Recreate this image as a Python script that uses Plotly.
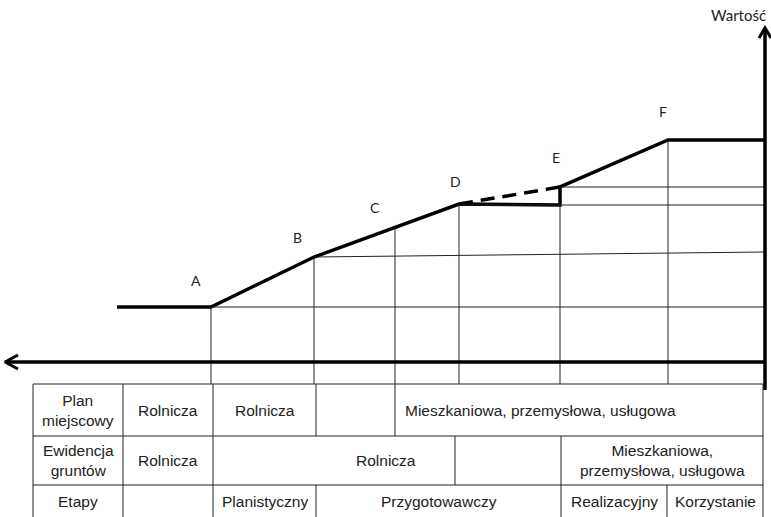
import plotly.graph_objects as go

W, H = 771, 517
# horizontal position (px-like units) and value units (0 = horizontal axis)
X_RANGE = [0, 771]
V_RANGE = [-155, 362]

# ---- value path -------------------------------------------------------
path_x = [117, 211, 314, 459, 560, 560, 668, 765]
path_v = [55, 55, 105, 158, 157, 175, 222, 222]
expected_x = [459, 560]
expected_v = [158, 175]

point_names = ["A", "B", "C", "D", "E", "F"]
point_label_x = [196, 297, 375, 455, 556, 663]
point_label_v = [82, 125, 155, 181, 205, 251]

# ---- guide lines ------------------------------------------------------
grid_x = [211, 314, 395, 459, 560, 668]
grid_top_v = [55, 105, 134, 158, 157, 222]
level_start_x = [211, 314, 459, 560]
level_start_v = [55, 105, 157, 175]
level_end_v = [55, 110, 157, 175]

axis_x = 765
axis_top_v = 334
haxis_left_x = 5
axis_title = "Wartość"

# ---- table ------------------------------------------------------------
table_left, table_right = 33, 763
row_edges_v = [-22, -74, -123, -157]
row_edges_x = [
    [33, 123, 213, 316, 395, 763],
    [33, 123, 213, 455, 561, 763],
    [33, 123, 213, 316, 561, 667, 763],
]
row_texts = [
    ["Plan<br>miejscowy", "Rolnicza", "Rolnicza", "", "Mieszkaniowa, przemysłowa, usługowa"],
    ["Ewidencja<br>gruntów", "Rolnicza", "Rolnicza", "", "Mieszkaniowa,<br>przemysłowa, usługowa"],
    ["Etapy", "", "Planistyczny", "Przygotowawczy", "Realizacyjny", "Korzystanie"],
]
# text anchor position inside cells (None = centred in cell)
row_text_x = [
    [None, None, None, None, 403],
    [None, None, 386, None, None],
    [None, None, None, None, None, None],
]
row_text_v = [-48, -98, -139]

THIN = "#222222"
fig = go.Figure()

shapes = []
# vertical guide lines down to table top
for gx, gv in zip(grid_x, grid_top_v):
    shapes.append(dict(type="line", x0=gx, x1=gx, y0=gv, y1=row_edges_v[0],
                       line=dict(color=THIN, width=1)))
# horizontal level lines to the value axis
for sx, sv, ev in zip(level_start_x, level_start_v, level_end_v):
    shapes.append(dict(type="line", x0=sx, x1=axis_x, y0=sv, y1=ev,
                       line=dict(color=THIN, width=1)))
# table horizontal lines
for rv in row_edges_v:
    shapes.append(dict(type="line", x0=table_left, x1=table_right, y0=rv, y1=rv,
                       line=dict(color=THIN, width=1)))
# table vertical lines
for r, edges in enumerate(row_edges_x):
    for ex in edges:
        shapes.append(dict(type="line", x0=ex, x1=ex, y0=row_edges_v[r], y1=row_edges_v[r + 1],
                           line=dict(color=THIN, width=1)))

# axes (thick)
shapes.append(dict(type="line", x0=axis_x, x1=axis_x, y0=row_edges_v[0] - 6, y1=axis_top_v,
                   line=dict(color="black", width=3.5)))
shapes.append(dict(type="line", x0=axis_x, x1=haxis_left_x + 1, y0=0, y1=0,
                   line=dict(color="black", width=3.5)))

# arrow heads (open chevrons)
AH_W, AH_L = 6, 10
fig.add_trace(go.Scatter(x=[axis_x - AH_W, axis_x, axis_x + AH_W],
                         y=[axis_top_v - AH_L, axis_top_v, axis_top_v - AH_L],
                         mode="lines", line=dict(color="black", width=3),
                         hoverinfo="skip", showlegend=False))
fig.add_trace(go.Scatter(x=[haxis_left_x + AH_L + 3, haxis_left_x, haxis_left_x + AH_L + 3],
                         y=[AH_W + 1, 0, -AH_W - 1],
                         mode="lines", line=dict(color="black", width=3),
                         hoverinfo="skip", showlegend=False))

# value path
fig.add_trace(go.Scatter(x=path_x, y=path_v, mode="lines",
                         line=dict(color="black", width=3.5),
                         hoverinfo="skip", showlegend=False))
fig.add_trace(go.Scatter(x=expected_x, y=expected_v, mode="lines",
                         line=dict(color="black", width=3.5, dash="14px,8px"),
                         hoverinfo="skip", showlegend=False))

annotations = []
for name, lx, lv in zip(point_names, point_label_x, point_label_v):
    annotations.append(dict(x=lx, y=lv, text=name, showarrow=False,
                            font=dict(family="Lato, Open Sans, sans-serif", size=14, color="#222"),
                            xanchor="center", yanchor="middle"))
annotations.append(dict(x=738, y=347, text=axis_title, showarrow=False,
                        font=dict(family="Lato, Open Sans, sans-serif", size=15, color="#222"),
                        xanchor="center", yanchor="middle"))

for r in range(len(row_texts)):
    edges = row_edges_x[r]
    for c, txt in enumerate(row_texts[r]):
        if not txt:
            continue
        tx = row_text_x[r][c]
        anchor = "center"
        if tx is None:
            tx = (edges[c] + edges[c + 1]) / 2
        elif r == 0 and c == 4:
            anchor = "left"
        annotations.append(dict(x=tx, y=row_text_v[r], text=txt, showarrow=False,
                                font=dict(family="Liberation Sans, Arial, sans-serif",
                                          size=15.5, color="#222"),
                                xanchor=anchor, yanchor="middle", align="center"))

fig.update_layout(
    width=W, height=H,
    margin=dict(l=0, r=0, t=0, b=0),
    paper_bgcolor="white", plot_bgcolor="white",
    xaxis=dict(range=X_RANGE, visible=False, fixedrange=True),
    yaxis=dict(range=V_RANGE, visible=False, fixedrange=True),
    shapes=shapes, annotations=annotations,
    showlegend=False,
)
fig.write_html("out.html", config={"displayModeBar": False},
               post_script="document.body.style.margin='0';document.body.style.overflow='hidden';")
